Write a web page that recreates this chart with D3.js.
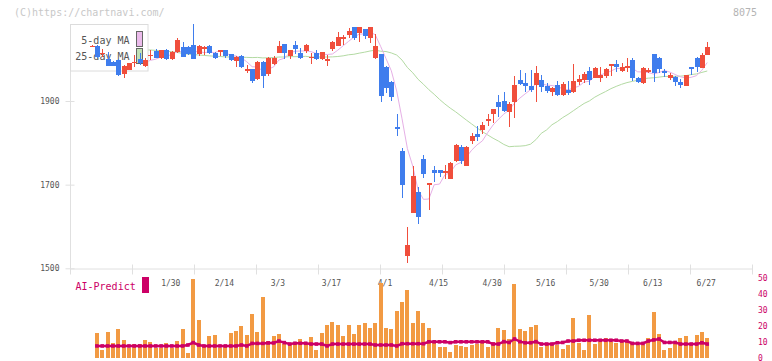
<!DOCTYPE html>
<html><head><meta charset="utf-8">
<script src="https://cdn.jsdelivr.net/npm/d3@7"></script>
<style>body{margin:0;background:#fff}svg{display:block}text{font-family:"DejaVu Sans Mono",monospace}</style>
</head><body><svg id="c" width="772" height="361"></svg>
<script>
const dateLabels = ["1/30","2/14","3/3","3/17","4/1","4/15","4/30","5/16","5/30","6/13","6/27"];
const dateIndex = [15,25,35,45,55,65,75,85,95,105,115];
const priceTicks = [1500,1700,1900];
const volumeTicks = [0,10,20,30,40,50];

const open = [2031,2032,2013,2000,1994,1998,1965,1974,1993,2001,1984,2009,2020,2002,2022,2000,2016,2028,2030,2034,
2012,2027,2032,2015,2016,2022,2012,1996,2008,1975,1976,1953,1994,1965,1988,2015,2036,2008,2034,2015,
2020,2005,2015,2000,1999,2024,2032,2048,2058,2076,2063,2072,2051,2002,2012,1982,1946,1837,1781,1530,
1633,1682,1761,1702,1735,1735,1727,1714,1757,1789,1745,1805,1821,1831,1851,1868,1898,1900,1874,1898,
1950,1944,1936,1938,1950,1936,1922,1938,1914,1926,1921,1946,1950,1972,1956,1956,1960,1984,1988,1972,
1978,1998,1954,1942,1970,2012,2004,1972,1954,1958,1946,1937,1981,2004,1980,2010];
const high = [2034,2033,2024,2018,1996,2000,1986,1991,2010,2015,2003,2021,2024,2023,2024,2019,2050,2042,2031,2084,
2033,2032,2033,2016,2023,2023,2013,2007,2009,1986,1977,1995,1995,2006,2008,2043,2037,2023,2043,2026,
2036,2015,2022,2017,2010,2043,2064,2058,2074,2077,2077,2073,2077,2060,2013,1983,1947,1869,1787,1599,
1745,1695,1771,1704,1745,1736,1747,1753,1796,1795,1792,1823,1841,1849,1869,1882,1914,1922,1898,1960,
1974,1968,1974,1984,1962,1942,1933,1948,1946,1948,1988,1962,1970,1982,1981,1981,1978,1989,1998,1990,
2002,2004,1958,1981,1978,2013,2005,1976,1968,1959,1953,1963,1982,2005,2015,2042];
const low = [2029,2004,2005,1983,1983,1960,1956,1973,1982,1986,1982,1998,2003,2001,1999,1999,2015,2005,2011,2000,
2008,2010,2013,2000,2008,2003,1996,1982,1979,1966,1942,1951,1932,1960,1987,2014,2000,2000,2012,2000,
2014,1988,1999,1999,1984,2019,2031,2034,2051,2046,2042,2048,2039,2001,1898,1920,1901,1817,1669,1512,
1632,1605,1715,1639,1707,1718,1713,1713,1753,1749,1744,1796,1805,1820,1841,1848,1862,1874,1839,1859,
1938,1922,1922,1898,1922,1918,1913,1913,1913,1914,1919,1938,1942,1938,1955,1945,1956,1960,1970,1970,
1970,1948,1944,1941,1966,1946,1966,1958,1950,1936,1930,1936,1962,1969,1979,2009];
const close = [2032,2005,2015,1984,1984,1961,1984,1990,1994,1992,1999,2011,2004,2022,2000,2018,2046,2006,2012,2000,
2032,2028,2014,2004,2022,2008,1998,2006,1981,1976,1949,1994,1960,2002,2002,2032,2015,2022,2024,2004,
2034,2006,2000,2016,2000,2040,2052,2052,2068,2051,2076,2056,2076,2032,1913,1930,1910,1835,1699,1556,
1721,1623,1725,1703,1727,1729,1733,1752,1795,1757,1791,1817,1815,1843,1857,1881,1885,1877,1893,1938,
1941,1937,1926,1968,1934,1925,1932,1914,1941,1920,1949,1952,1965,1950,1980,1962,1977,1988,1982,1981,
1984,1956,1946,1980,1974,1966,1976,1968,1962,1945,1938,1962,1976,1982,2010,2030];

const ma5 = [null,null,null,null,2004.0,1989.8,1985.6,1980.6,1982.6,1984.2,1991.8,1997.2,2000.0,2005.6,2007.2,2011.0,2018.0,2018.4,2016.4,2016.4,
2019.2,2015.6,2017.2,2015.6,2020.0,2015.2,2009.2,2007.6,2003.0,1993.8,1982.0,1981.2,1972.0,1976.2,1981.4,1998.0,2002.2,2014.6,2019.0,2019.4,
2019.8,2018.0,2013.6,2012.0,2011.2,2012.4,2021.6,2032.0,2042.4,2052.6,2059.8,2060.6,2065.4,2058.2,2030.6,2001.4,1972.2,1924.0,1857.4,1786.0,
1744.2,1686.8,1664.8,1665.6,1699.8,1701.4,1723.4,1728.8,1747.2,1753.2,1765.6,1782.4,1795.0,1804.6,1824.6,1842.6,1856.2,1868.6,1878.6,1894.8,
1906.8,1917.2,1927.0,1942.0,1941.2,1938.0,1937.0,1934.6,1929.2,1926.4,1931.2,1935.2,1945.4,1947.2,1959.2,1961.8,1966.8,1971.4,1977.8,1978.0,
1982.4,1978.2,1969.8,1969.4,1968.0,1964.4,1968.4,1972.8,1969.2,1963.4,1957.8,1955.0,1956.6,1960.6,1973.6,1992.0];
const ma25 = [null,null,null,null,null,null,null,null,null,null,2022,2022,2021,2020,2019,2018,2016,2014,2012,2011,
2010,2009,2008,2007,2006.4,2005.4,2005.1,2004.8,2004.6,2004.3,2003.8,2004.2,2003.0,2003.4,2003.8,2005.1,2005.2,2006.0,2006.0,2006.2,
2006.8,2005.2,2005.0,2005.2,2005.2,2005.5,2006.4,2008.0,2010.5,2011.7,2014.4,2016.7,2019.5,2021.6,2019.0,2018.3,2014.9,2009.9,1997.8,1980.0,
1967.5,1951.8,1940.0,1927.1,1916.0,1903.8,1892.9,1883.0,1874.2,1864.4,1854.5,1845.1,1835.6,1826.6,1818.8,1811.0,1804.2,1796.2,1790.7,1791.7,
1792.1,1793.2,1796.8,1807.6,1822.7,1830.9,1843.2,1850.8,1860.3,1868.0,1876.8,1885.6,1894.1,1900.3,1909.2,1916.1,1922.5,1929.4,1935.0,1939.9,
1944.0,1946.9,1949.6,1953.1,1954.6,1955.6,1957.1,1958.8,1958.6,1959.0,1959.5,1960.7,1963.2,1964.8,1968.4,1971.7];

const volume = [null,15.7,4.8,16.2,9.2,18.0,11.1,6.1,8.6,8.6,11.1,9.9,6.1,6.1,9.2,6.1,10.5,18.0,3.0,49.5,
23.7,6.5,13.6,14.3,6.1,7.0,15.5,16.8,19.9,14.3,27.4,16.2,38.1,10.5,13.6,14.9,8.6,8.6,8.6,11.8,
8.6,13.0,4.8,15.7,20.6,22.4,20.6,13.6,20.6,14.9,20.6,21.8,18.7,21.8,47.2,18.7,18.0,29.4,35.0,42.6,
21.8,29.4,21.8,18.7,10.0,6.5,6.5,3.4,8.0,7.3,6.7,8.0,8.4,9.0,6.9,9.6,18.9,17.4,11.8,46.4,
18.0,16.8,19.3,20.6,6.9,8.0,8.6,8.0,5.5,8.0,25.2,9.4,4.8,26.9,8.6,9.6,12.6,9.6,9.4,9.6,
10.5,9.6,8.0,8.0,12.6,28.6,14.9,4.8,6.3,8.6,12.6,13.7,8.0,14.3,16.0,12.6];
const aiPredict = [null,7.4,7.4,7.4,7.4,7.4,7.4,7.4,7.4,7.4,7.4,7.4,7.4,7.4,7.4,7.4,7.4,7.4,8.0,9.5,
8.0,7.4,7.4,7.4,7.4,7.4,7.4,7.4,8.0,7.4,9.0,9.0,9.0,9.3,9.3,10.5,9.5,8.6,9.1,9.1,
9.1,8.6,8.6,8.6,7.4,8.6,8.6,8.6,8.6,8.6,8.6,8.6,8.6,8.0,8.0,8.0,8.0,7.4,8.8,8.8,
8.8,8.8,8.8,10.0,10.0,10.0,10.0,9.5,10.0,10.0,10.0,10.0,10.0,10.0,10.0,8.6,8.6,10.1,9.6,11.8,
10.1,9.4,9.4,10.1,8.6,8.6,8.6,9.4,9.6,10.5,10.5,11.0,11.0,11.0,11.0,11.0,11.0,11.0,11.0,10.5,
10.5,9.0,9.0,9.0,10.5,11.2,11.8,9.6,9.6,9.6,8.6,8.6,8.6,8.6,9.4,8.6];

const svg = d3.select("#c");
const x = d3.scaleLinear().domain([0,115]).range([91.5,707.25]);
const y = d3.scaleLinear().domain([1500,2100]).range([268.3,17.35]);
const yv = d3.scaleLinear().domain([0,50]).range([357.7,278.3]);
const grid = d3.scaleLinear().domain([0,11]).range([70,752]);
const RED = "#f04e3c", BLUE = "#3f7ded", AXIS = "#e0e0e0", TXT = "#555", MAG = "#cc0066";

svg.append("text").attr("x",14).attr("y",16).attr("font-size",10).attr("fill","#c8c8c8").text("(C)https://chartnavi.com/");
svg.append("text").attr("x",757).attr("y",16).attr("text-anchor","end").attr("font-size",10).attr("fill","#b4b4b4").text("8075");

// price axis
const ya = svg.append("g").attr("transform","translate(70.5,0)")
  .call(d3.axisLeft(y).tickValues(priceTicks).tickSize(5).tickSizeOuter(0).tickPadding(6).tickFormat(d3.format("d")));
ya.select(".domain").attr("stroke",AXIS).attr("d","M0,24.5V"+y(1500));
ya.selectAll(".tick line").attr("stroke",AXIS).attr("x1",4).attr("x2",-5);
ya.selectAll(".tick text").attr("fill",TXT).attr("font-size",8).attr("font-family","DejaVu Sans Mono");

// time axis with uniform grid ticks
const xa = svg.append("g").attr("transform","translate(0,268.5)")
  .call(d3.axisBottom(grid).tickValues(d3.range(12)).tickSize(6).tickSizeOuter(0).tickFormat(""));
xa.select(".domain").attr("stroke",AXIS);
xa.selectAll(".tick line").attr("stroke",AXIS).attr("y1",-4).attr("y2",6);
svg.append("g").selectAll("text").data(dateIndex).join("text")
  .attr("x",d=>x(d)-1).attr("y",285.5).attr("text-anchor","middle").attr("font-size",8).attr("fill",TXT)
  .text((d,i)=>dateLabels[i]);

// moving averages
const line = d3.line().defined(d=>d.v!=null).x(d=>x(d.i)).y(d=>y(d.v));
svg.append("path").datum(ma25.map((v,i)=>({i,v}))).attr("d",line).attr("fill","none").attr("stroke","#b3daa3").attr("stroke-width",1);
svg.append("path").datum(ma5.map((v,i)=>({i,v}))).attr("d",line).attr("fill","none").attr("stroke","#e6b0e6").attr("stroke-width",1);

// legend
const lg = svg.append("g");
lg.append("rect").attr("x",70.5).attr("y",24.5).attr("width",77.5).attr("height",46.5).attr("fill","#fff").attr("stroke","#dcdcdc");
lg.append("text").attr("x",129.5).attr("y",43.5).attr("text-anchor","end").attr("font-size",10).attr("fill",TXT).text("5-day MA");
lg.append("text").attr("x",129.5).attr("y",59.5).attr("text-anchor","end").attr("font-size",10).attr("fill",TXT).text("25-day MA");
lg.append("rect").attr("x",136.5).attr("y",31.5).attr("width",6).attr("height",15).attr("fill","#ebbbeb").attr("stroke","#666");
lg.append("rect").attr("x",136.5).attr("y",48.5).attr("width",6).attr("height",15).attr("fill","#c0e0b4").attr("stroke","#666");

// candles
const cg = svg.append("g").attr("shape-rendering","crispEdges");
const idx = d3.range(open.length);
cg.selectAll("line").data(idx).join("line")
  .attr("x1",i=>Math.round(x(i))+0.5).attr("x2",i=>Math.round(x(i))+0.5)
  .attr("y1",i=>y(high[i])).attr("y2",i=>y(low[i]))
  .attr("stroke",i=>close[i]>=open[i]?RED:BLUE);
cg.selectAll("rect").data(idx).join("rect")
  .attr("x",i=>Math.round(x(i))-2).attr("width",5)
  .attr("y",i=>y(Math.max(open[i],close[i])))
  .attr("height",i=>Math.max(1.5,Math.abs(y(open[i])-y(close[i]))))
  .attr("fill",i=>close[i]>=open[i]?RED:BLUE);

// volume
const vg = svg.append("g").attr("shape-rendering","crispEdges");
vg.selectAll("rect").data(idx.filter(i=>volume[i]!=null)).join("rect")
  .attr("x",i=>Math.round(x(i))-2).attr("width",4)
  .attr("y",i=>yv(volume[i])).attr("height",i=>yv(0)-yv(volume[i]))
  .attr("fill","#f29a43");

const aiLine = d3.line().defined(d=>d.v!=null).x(d=>x(d.i)).y(d=>yv(d.v));
const aiData = aiPredict.map((v,i)=>({i,v}));
svg.append("path").datum(aiData).attr("d",aiLine).attr("fill","none").attr("stroke",MAG).attr("stroke-width",2.5);
svg.append("g").selectAll("rect").data(aiData.filter(d=>d.v!=null)).join("rect")
  .attr("x",d=>x(d.i)-1.8).attr("y",d=>yv(d.v)-1.8).attr("width",3.6).attr("height",3.6).attr("fill",MAG);

// volume axis labels
svg.append("g").selectAll("text").data(volumeTicks).join("text")
  .attr("x",758).attr("y",d=>yv(d)).attr("dy","0.35em").attr("font-size",8).attr("fill",MAG).text(d=>d);

svg.append("text").attr("x",75.5).attr("y",289.5).attr("font-size",10).attr("fill",MAG).text("AI-Predict");
svg.append("rect").attr("x",142).attr("y",277).attr("width",7).attr("height",16).attr("fill",MAG);
</script></body></html>
